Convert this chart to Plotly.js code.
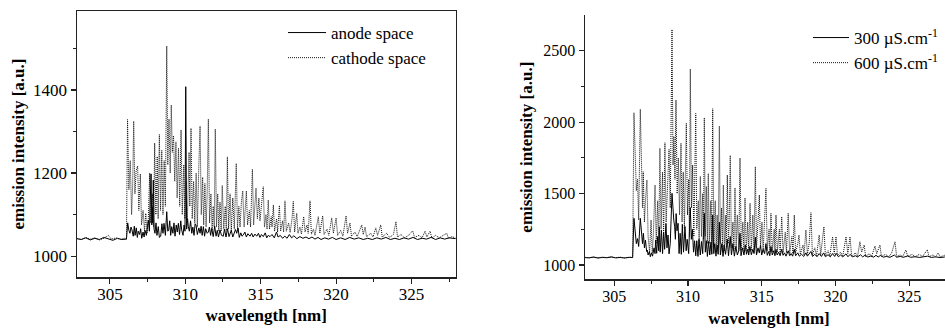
<!DOCTYPE html>
<html>
<head>
<meta charset="utf-8">
<script src="https://cdn.plot.ly/plotly-3.0.1.min.js"></script>
<style>
html,body{margin:0;padding:0;overflow:hidden;background:#fff;width:945px;height:331px;}
#chart{width:960px;height:331px;}
</style>
</head>
<body>
<div id="chart"></div>
<script>
// ---------- data (wavelength [nm], emission intensity [a.u.]) ----------
const anode = [
[302.8,1042],[303.1,1040],[303.4,1044],[303.7,1039],[304.0,1043],[304.3,1040],[304.6,1045],[304.9,1041],[305.2,1038],[305.5,1043],[305.8,1040],[306.1,1041],
[306.18,1080],[306.26,1062],[306.33,1055],[306.4,1070],[306.45,1065],[306.55,1048],[306.62,1072],[306.67,1050],[306.75,1068],[306.82,1045],[306.88,1060],[306.97,1052],
[307.04,1066],[307.11,1043],[307.2,1058],[307.27,1046],[307.33,1062],[307.42,1050],[307.5,1072],[307.55,1087],[307.62,1060],[307.73,1198],[307.78,1075],[307.81,1119],
[307.84,1080],[307.88,1183],[307.93,1065],[307.99,1055],[308.06,1080],[308.12,1050],[308.21,1071],[308.28,1045],[308.37,1048],[308.45,1078],[308.52,1055],[308.59,1079],
[308.68,1050],[308.77,1107],[308.84,1060],[308.9,1063],[308.97,1085],[309.03,1050],[309.1,1071],[309.18,1055],[309.25,1080],[309.32,1048],[309.4,1075],[309.47,1058],
[309.54,1079],[309.62,1052],[309.7,1085],[309.76,1063],[309.85,1050],[309.92,1075],[309.98,1060],[310.03,1408],[310.09,1065],[310.15,1090],[310.2,1071],[310.27,1060],
[310.35,1085],[310.43,1055],[310.5,1070],[310.58,1050],[310.65,1078],[310.71,1075],[310.8,1052],[310.9,1068],[310.98,1055],[311.05,1072],[311.12,1050],[311.2,1071],
[311.28,1048],[311.35,1066],[311.45,1055],[311.53,1058],[311.6,1070],[311.68,1050],[311.75,1067],[311.85,1047],[311.95,1072],[312.04,1048],[312.12,1062],[312.2,1046],
[312.3,1063],[312.4,1050],[312.52,1048],[312.6,1065],[312.7,1046],[312.8,1066],[312.9,1047],[312.97,1055],[313.05,1062],[313.15,1046],[313.25,1057],[313.33,1064],
[313.41,1055],[313.5,1068],[313.58,1045],[313.68,1056],[313.76,1048],[313.85,1051],[313.95,1058],[314.05,1046],[314.15,1054],[314.29,1048],[314.4,1055],[314.5,1046],
[314.62,1053],[314.74,1048],[314.85,1055],[314.95,1045],[315.05,1052],[315.17,1047],[315.3,1056],[315.4,1044],[315.5,1050],[315.62,1047],[315.75,1052],[315.9,1044],
[316.05,1058],[316.15,1046],[316.3,1050],[316.45,1043],[316.6,1048],[316.75,1043],[316.9,1052],[317.05,1044],[317.2,1049],[317.4,1042],[317.6,1047],[317.8,1043],
[318.0,1046],[318.2,1042],[318.4,1046],[318.6,1041],[318.8,1045],[319.0,1040],[319.25,1044],[319.5,1041],[319.75,1045],[320.0,1040],[320.3,1044],[320.6,1040],
[320.9,1045],[321.2,1041],[321.5,1044],[321.8,1040],[322.1,1043],[322.4,1040],[322.7,1044],[323.0,1041],[323.3,1045],[323.6,1040],[323.9,1043],[324.2,1040],
[324.5,1044],[324.8,1041],[325.1,1045],[325.4,1040],[325.7,1043],[326.0,1041],[326.3,1045],[326.6,1040],[326.9,1044],[327.2,1041],[327.5,1044],[327.93,1042]
];

const cathode = [
[302.8,1043],[303.1,1040],[303.4,1045],[303.7,1041],[304.0,1044],[304.3,1039],[304.6,1043],[304.9,1050],[305.1,1041],[305.4,1044],[305.7,1040],[305.95,1043],[306.1,1041],
[306.17,1329],[306.26,1160],[306.35,1230],[306.44,1100],[306.51,1170],[306.58,1325],[306.66,1150],[306.74,1205],[306.84,1217],[306.92,1110],[307.02,1198],[307.1,1075],
[307.2,1110],[307.3,1060],[307.38,1103],[307.46,1055],[307.55,1090],[307.64,1200],[307.7,1080],[307.82,1150],[307.9,1070],[307.97,1272],[308.05,1100],[308.14,1240],
[308.2,1090],[308.28,1293],[308.36,1110],[308.44,1255],[308.52,1100],[308.6,1230],[308.68,1120],[308.77,1506],[308.84,1220],[308.92,1330],[309.0,1200],[309.07,1364],
[309.14,1250],[309.22,1290],[309.3,1180],[309.38,1275],[309.46,1140],[309.55,1260],[309.63,1120],[309.72,1304],[309.8,1100],[309.9,1220],[309.97,1090],[310.05,1180],
[310.13,1080],[310.25,1250],[310.3,1120],[310.38,1308],[310.46,1090],[310.55,1180],[310.63,1080],[310.72,1200],[310.8,1070],[310.9,1220],[310.98,1313],[311.06,1100],
[311.15,1190],[311.22,1075],[311.3,1175],[311.38,1070],[311.45,1150],[311.53,1330],[311.61,1080],[311.7,1150],[311.78,1060],[311.85,1120],[311.92,1070],[311.99,1306],
[312.07,1070],[312.15,1150],[312.22,1060],[312.3,1130],[312.38,1060],[312.45,1170],[312.55,1065],[312.65,1120],[312.72,1060],[312.79,1239],[312.87,1065],[312.97,1150],
[313.05,1060],[313.15,1140],[313.25,1065],[313.38,1223],[313.46,1065],[313.55,1120],[313.63,1070],[313.72,1130],[313.81,1157],[313.9,1070],[314.0,1120],[314.05,1157],
[314.13,1075],[314.25,1110],[314.33,1070],[314.45,1209],[314.53,1075],[314.62,1130],[314.69,1164],[314.78,1090],[314.88,1140],[314.95,1085],[315.05,1130],[315.17,1167],
[315.25,1070],[315.35,1100],[315.42,1065],[315.5,1135],[315.58,1065],[315.7,1095],[315.75,1070],[315.84,1123],[315.92,1060],[316.05,1090],[316.12,1058],[316.24,1122],
[316.32,1060],[316.45,1085],[316.52,1058],[316.61,1133],[316.7,1060],[316.85,1080],[316.95,1057],[317.08,1090],[317.16,1132],[317.25,1058],[317.39,1103],[317.47,1055],
[317.6,1070],[317.7,1053],[317.85,1095],[317.94,1058],[318.07,1075],[318.15,1055],[318.27,1133],[318.36,1053],[318.5,1065],[318.6,1050],[318.82,1095],[318.92,1055],
[319.11,1097],[319.2,1052],[319.4,1065],[319.52,1050],[319.71,1092],[319.82,1055],[320.0,1092],[320.1,1050],[320.3,1062],[320.45,1048],[320.66,1097],[320.76,1055],
[320.92,1080],[321.02,1048],[321.25,1058],[321.4,1047],[321.7,1075],[321.8,1052],[321.92,1070],[322.02,1047],[322.3,1055],[322.45,1046],[322.63,1068],[322.75,1050],
[322.96,1075],[323.06,1046],[323.35,1055],[323.55,1045],[323.8,1052],[323.97,1083],[324.07,1046],[324.3,1052],[324.55,1044],[324.8,1050],[325.08,1061],[325.2,1045],
[325.5,1050],[325.7,1044],[325.9,1060],[326.02,1046],[326.23,1060],[326.35,1044],[326.6,1050],[326.85,1044],[327.1,1050],[327.34,1055],[327.45,1043],[327.7,1047],[327.93,1043]
];

const s300 = [
[303.0,1052],[303.3,1050],[303.6,1055],[303.9,1049],[304.2,1053],[304.5,1051],[304.8,1056],[305.1,1050],[305.4,1053],[305.7,1049],[306.0,1054],[306.25,1052],
[306.34,1327],[306.42,1200],[306.5,1150],[306.58,1185],[306.66,1130],[306.77,1327],[306.85,1210],[306.92,1150],[306.98,1222],[307.05,1120],[307.12,1175],[307.2,1095],
[307.24,1105],[307.3,1070],[307.38,1093],[307.45,1058],[307.52,1085],[307.6,1062],[307.7,1120],[307.77,1080],[307.81,1175],[307.88,1082],[307.95,1200],[308.02,1100],
[308.06,1268],[308.12,1090],[308.2,1245],[308.28,1080],[308.35,1230],[308.42,1110],[308.51,1292],[308.58,1120],[308.65,1210],[308.72,1078],[308.8,1150],[308.92,1502],
[308.98,1362],[309.04,1315],[309.1,1268],[309.15,1180],[309.2,1360],[309.26,1240],[309.33,1292],[309.4,1080],[309.47,1222],[309.55,1075],[309.62,1285],[309.7,1090],
[309.8,1270],[309.88,1100],[309.95,1180],[310.05,1080],[310.16,1402],[310.23,1180],[310.3,1250],[310.38,1090],[310.45,1170],[310.53,1065],[310.6,1170],[310.68,1060],
[310.75,1180],[310.84,1070],[310.92,1165],[311.0,1080],[311.11,1362],[311.18,1090],[311.25,1170],[311.32,1060],[311.4,1165],[311.48,1070],[311.56,1160],[311.62,1075],
[311.68,1350],[311.75,1080],[311.82,1150],[311.9,1062],[311.98,1140],[312.05,1075],[312.13,1300],[312.2,1070],[312.3,1150],[312.38,1060],[312.45,1140],[312.55,1075],
[312.67,1180],[312.75,1065],[312.87,1200],[312.95,1070],[313.05,1150],[313.15,1062],[313.25,1130],[313.35,1070],[313.45,1100],[313.53,1222],[313.6,1065],[313.7,1120],
[313.8,1070],[313.89,1140],[313.97,1075],[314.05,1110],[314.12,1070],[314.2,1130],[314.3,1072],[314.4,1110],[314.48,1080],[314.57,1195],[314.65,1070],[314.75,1120],
[314.84,1085],[314.92,1140],[315.0,1070],[315.1,1110],[315.2,1080],[315.29,1150],[315.38,1068],[315.48,1095],[315.55,1065],[315.63,1130],[315.72,1070],[315.82,1100],
[315.9,1065],[315.97,1110],[316.05,1070],[316.15,1090],[316.25,1065],[316.36,1110],[316.45,1068],[316.55,1085],[316.65,1062],[316.8,1100],[316.9,1065],[317.0,1080],
[317.1,1062],[317.21,1110],[317.3,1065],[317.45,1085],[317.55,1062],[317.7,1075],[317.85,1060],[318.0,1085],[318.1,1062],[318.22,1078],[318.34,1095],[318.45,1060],
[318.6,1075],[318.75,1058],[318.9,1080],[319.05,1060],[319.2,1085],[319.32,1058],[319.5,1072],[319.65,1057],[319.8,1080],[319.95,1060],[320.05,1082],[320.2,1058],
[320.35,1070],[320.5,1057],[320.72,1078],[320.85,1058],[321.0,1075],[321.15,1057],[321.35,1065],[321.5,1056],[321.7,1072],[321.85,1057],[322.0,1068],[322.2,1056],
[322.4,1063],[322.6,1055],[322.75,1068],[322.9,1056],[323.05,1067],[323.25,1055],[323.45,1060],[323.7,1054],[324.0,1070],[324.15,1055],[324.4,1060],[324.6,1054],
[324.9,1063],[325.1,1054],[325.4,1058],[325.7,1053],[326.0,1057],[326.25,1062],[326.5,1053],[326.8,1057],[327.1,1052],[327.4,1056],[327.7,1052],[328.0,1054]
];

const s600 = [
[303.0,1054],[303.3,1051],[303.6,1057],[303.9,1050],[304.2,1055],[304.5,1052],[304.8,1058],[305.1,1051],[305.4,1055],[305.7,1050],[306.0,1053],[306.25,1055],
[306.34,2066],[306.42,1700],[306.5,1520],[306.58,1600],[306.66,1315],[306.77,2090],[306.85,1550],[306.92,1400],[306.97,1653],[307.05,1300],[307.12,1450],[307.22,1595],
[307.3,1200],[307.4,1090],[307.5,1315],[307.58,1085],[307.65,1200],[307.77,1560],[307.85,1150],[307.95,1450],[308.02,1130],[308.1,1817],[308.18,1250],[308.28,1650],
[308.35,1200],[308.44,1856],[308.52,1300],[308.6,1500],[308.72,1810],[308.8,1400],[308.92,2649],[308.99,1700],[309.05,1900],[309.12,1600],[309.19,2155],[309.27,1500],
[309.35,1750],[309.43,1350],[309.53,1852],[309.6,1300],[309.68,1650],[309.76,1250],[309.89,1992],[309.97,1350],[310.05,1600],[310.1,1200],[310.16,2372],[310.24,1400],
[310.32,1700],[310.4,1200],[310.53,2061],[310.6,1250],[310.7,1450],[310.76,1150],[310.84,1620],[310.92,1200],[311.0,1500],[311.05,1180],[311.11,2031],[311.18,1200],
[311.25,1550],[311.32,1150],[311.38,1640],[311.45,1150],[311.55,1450],[311.6,1120],[311.68,2094],[311.76,1150],[311.85,1450],[311.92,1100],[311.98,1350],[312.05,1120],
[312.13,1973],[312.2,1150],[312.28,1400],[312.35,1100],[312.4,1560],[312.48,1100],[312.57,1350],[312.6,1150],[312.67,1630],[312.74,1150],[312.8,1300],[312.87,1767],
[312.95,1120],[313.05,1300],[313.12,1100],[313.19,1540],[313.27,1120],[313.35,1350],[313.45,1100],[313.53,1749],[313.62,1100],[313.72,1300],[313.8,1100],[313.87,1470],
[313.95,1100],[314.05,1300],[314.12,1090],[314.21,1432],[314.3,1100],[314.4,1350],[314.48,1090],[314.57,1688],[314.65,1120],[314.75,1300],[314.84,1490],[314.92,1120],
[315.02,1300],[315.1,1090],[315.18,1250],[315.29,1537],[315.38,1100],[315.5,1250],[315.55,1090],[315.63,1362],[315.72,1090],[315.85,1250],[315.9,1090],[315.97,1350],
[316.06,1090],[316.2,1250],[316.25,1080],[316.36,1338],[316.45,1085],[316.6,1230],[316.68,1085],[316.8,1362],[316.9,1080],[317.05,1200],[317.12,1080],[317.21,1350],
[317.3,1085],[317.45,1150],[317.53,1210],[317.62,1075],[317.8,1140],[317.87,1070],[318.0,1245],[318.1,1075],[318.22,1150],[318.34,1366],[318.44,1070],[318.6,1120],
[318.72,1065],[318.9,1210],[319.0,1070],[319.1,1150],[319.22,1268],[319.32,1065],[319.5,1100],[319.62,1063],[319.81,1198],[319.92,1080],[320.04,1198],[320.14,1065],
[320.35,1090],[320.5,1062],[320.72,1198],[320.84,1080],[320.99,1198],[321.1,1062],[321.35,1085],[321.5,1060],[321.66,1163],[321.78,1090],[321.95,1140],[322.05,1060],
[322.3,1080],[322.45,1058],[322.68,1133],[322.8,1080],[323.02,1140],[323.12,1060],[323.4,1075],[323.6,1058],[323.8,1080],[324.04,1163],[324.15,1060],[324.4,1070],
[324.55,1058],[324.78,1105],[324.9,1060],[325.2,1075],[325.4,1058],[325.7,1075],[325.9,1058],[326.23,1107],[326.35,1058],[326.6,1070],[326.8,1058],[326.97,1085],
[327.1,1057],[327.4,1068],[327.7,1058],[328.0,1062]
];

const xTicks = [305, 310, 315, 320, 325];
const xMinor = [302.5, 307.5, 312.5, 317.5, 322.5, 327.5];
const yTicksLeft = [1000, 1200, 1400];
const yMinorLeft = [1100, 1300, 1500];
const yTicksRight = [1000, 1500, 2000, 2500];
const yMinorRight = [1250, 1750, 2250];
const names = ['anode space', 'cathode space', '300 \u00b5S.cm<sup>-1</sup>', '600 \u00b5S.cm<sup>-1</sup>'];

// ---------- figure ----------
const W = 960, H = 331;
const FONT = 'Liberation Serif';
const xs = a => a.map(p => p[0]);
const ys = a => a.map(p => p[1]);
const DOT = '1px,1px';

const traces = [
  {x: xs(anode), y: ys(anode), name: names[0], type: 'scatter', mode: 'lines',
   line: {color: '#000', width: 1}, xaxis: 'x', yaxis: 'y', legend: 'legend'},
  {x: xs(cathode), y: ys(cathode), name: names[1], type: 'scatter', mode: 'lines',
   line: {color: '#111', width: 1, dash: DOT}, xaxis: 'x', yaxis: 'y', legend: 'legend'},
  {x: xs(s300), y: ys(s300), name: names[2], type: 'scatter', mode: 'lines',
   line: {color: '#000', width: 1}, xaxis: 'x2', yaxis: 'y2', legend: 'legend2'},
  {x: xs(s600), y: ys(s600), name: names[3], type: 'scatter', mode: 'lines',
   line: {color: '#111', width: 1, dash: DOT}, xaxis: 'x2', yaxis: 'y2', legend: 'legend2'}
];

function axisCommon(size) {
  return {
    showgrid: false, zeroline: false, showline: true, linecolor: '#222', linewidth: 1.2,
    ticks: 'outside', ticklen: 5, tickwidth: 1.2, tickcolor: '#222',
    tickfont: {family: FONT, size: size, color: '#000'},
    minor: {ticks: 'outside', ticklen: 3, tickwidth: 1, tickcolor: '#222'}
  };
}

const layout = {
  width: W, height: H,
  margin: {l: 0, r: 0, t: 0, b: 0},
  paper_bgcolor: '#fff', plot_bgcolor: '#fff',
  font: {family: FONT, color: '#000'},
  showlegend: true,
  xaxis: Object.assign(axisCommon(17), {
    domain: [76.7 / W, 455.7 / W], range: [302.8, 327.93], anchor: 'y', mirror: true,
    tickmode: 'array', tickvals: xTicks, ticklabelstandoff: -4,
    title: {text: '<b>wavelength [nm]</b>', font: {family: FONT, size: 17, color: '#000'}, standoff: 6}
  }),
  yaxis: Object.assign(axisCommon(17), {
    domain: [(H - 277.3) / H, (H - 10.7) / H], range: [949, 1591], anchor: 'x', mirror: true,
    tickmode: 'array', tickvals: yTicksLeft,
    title: {text: '<b>emission intensity [a.u.]</b>', font: {family: FONT, size: 17, color: '#000'}, standoff: 4}
  }),
  xaxis2: Object.assign(axisCommon(16), {
    domain: [584.7 / W, 953.4 / W], range: [303, 328], anchor: 'y2',
    tickmode: 'array', tickvals: xTicks, ticklabelstandoff: -3,
    title: {text: '<b>wavelength [nm]</b>', font: {family: FONT, size: 17, color: '#000'}, standoff: 8}
  }),
  yaxis2: Object.assign(axisCommon(16), {
    domain: [(H - 279.3) / H, (H - 15) / H], range: [900, 2750], anchor: 'x2',
    tickmode: 'array', tickvals: yTicksRight,
    title: {text: '<b>emission intensity [a.u.]</b>', font: {family: FONT, size: 17, color: '#000'}, standoff: 6}
  }),
  legend: {
    x: 283 / W, y: (H - 15) / H, xanchor: 'left', yanchor: 'top',
    bgcolor: 'rgba(0,0,0,0)', borderwidth: 0,
    font: {family: FONT, size: 17, color: '#000'}, itemwidth: 38, tracegroupgap: 0
  },
  legend2: {
    x: 808 / W, y: (H - 20) / H, xanchor: 'left', yanchor: 'top',
    bgcolor: 'rgba(0,0,0,0)', borderwidth: 0,
    font: {family: FONT, size: 17, color: '#000'}, itemwidth: 36, tracegroupgap: 0
  }
};

layout.xaxis.minor.tickvals = xMinor;
layout.xaxis2.minor.tickvals = xMinor;
layout.yaxis.minor.tickvals = yMinorLeft;
layout.yaxis2.minor.tickvals = yMinorRight;

Plotly.newPlot('chart', traces, layout, {staticPlot: true, displayModeBar: false});
</script>
</body>
</html>
